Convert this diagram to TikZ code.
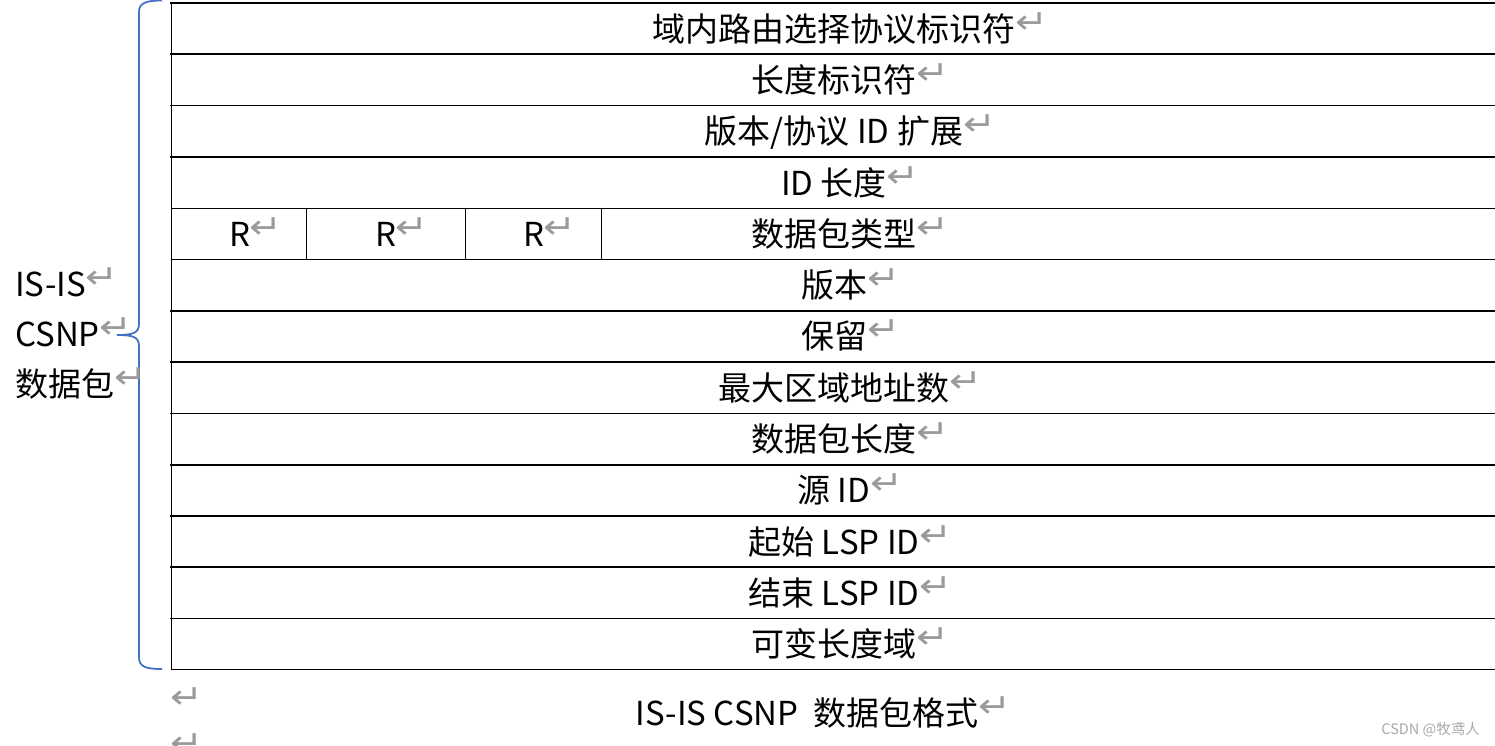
\documentclass[tikz,border=0pt]{standalone}
\usepackage{fontspec}
\setmainfont{Noto Sans CJK SC}
\newfontfamily\arrowfont{DejaVu Sans}
\definecolor{bracecol}{HTML}{4472C4}
\definecolor{markgray}{HTML}{9A9A9A}
\definecolor{wmgray}{HTML}{A8A8A8}
\newcommand{\retglyph}{\textcolor{markgray}{\scalebox{1.12}[0.95]{\arrowfont\fontsize{35}{35}\selectfont ↵}}}
\newcommand{\retmark}{\rlap{\raisebox{8pt}{\retglyph}}}
\begin{document}
\begin{tikzpicture}[x=1pt,y=-1pt,
  cell/.style={anchor=base, inner sep=0pt, font=\fontsize{33}{40}\selectfont},
  side/.style={anchor=base west, inner sep=0pt, font=\fontsize{33}{40}\selectfont},
  thickrule/.style={line width=1.7pt, line cap=rect},
  thinrule/.style={line width=1pt},
  bracepath/.style={draw=bracecol, line width=1.8pt}]
\useasboundingbox (0,0) rectangle (1495,745);
% horizontal rules
\foreach \k in {0,1,2,3,6,7,8,9,10,11,12}
  \draw[thickrule] (171,{3+51.3*\k}) -- (1495,{3+51.3*\k});
\foreach \k in {4,5,13}
  \draw[thinrule] (171,{3+51.3*\k}) -- (1495,{3+51.3*\k});
% left border
\draw[thinrule] (171,3) -- (171,669.9);
% R-row dividers
\foreach \x in {306,465,601}
  \draw[thinrule] (\x,208.2) -- (\x,259.5);
% row texts
\foreach \t [count=\i from 0] in {域内路由选择协议标识符, 长度标识符, 版本/协议 ID 扩展, ID 长度, 数据包类型, 版本, 保留, 最大区域地址数, 数据包长度, 源 ID, 起始 LSP ID, 结束 LSP ID, 可变长度域}
  \node[cell] (row\i) at (834,{41.15+51.3*\i}) {\t\retmark};
% R cells
\node[cell] (ra) at (239.5,246.35) {R\retmark};
\node[cell] (rb) at (385.5,246.35) {R\retmark};
\node[cell] (rc) at (533.5,246.35) {R\retmark};
% brace
\draw[bracepath] (162,669) .. controls (146,669) and (139,667) .. (139,657)
  -- (139,346) .. controls (139,337) and (133,335) .. (117,335)
  .. controls (133,335) and (139,333) .. (139,324)
  -- (139,12) .. controls (139,3) and (146,0.5) .. (162,0.5);
% side label
\node[side] (l1) at (15,296) {IS-IS\retmark};
\node[side] (l2) at (15,346) {CSNP\retmark};
\node[side] (l3) at (15,396) {数据包\retmark};
% bottom marks
\node[anchor=base west, inner sep=0pt] (m1) at (170,708) {\retglyph};
\node[anchor=base west, inner sep=0pt] (m2) at (170,754) {\retglyph};
% caption
\node[cell] (cap) at (807,725) {IS-IS CSNP\ \ 数据包格式\retmark};
% watermark
\node[anchor=base east, inner sep=0pt, text=wmgray, font=\fontsize{14.5}{16}\selectfont] (wm) at (1480,734) {CSDN @牧鸢人};
\end{tikzpicture}
\end{document}
